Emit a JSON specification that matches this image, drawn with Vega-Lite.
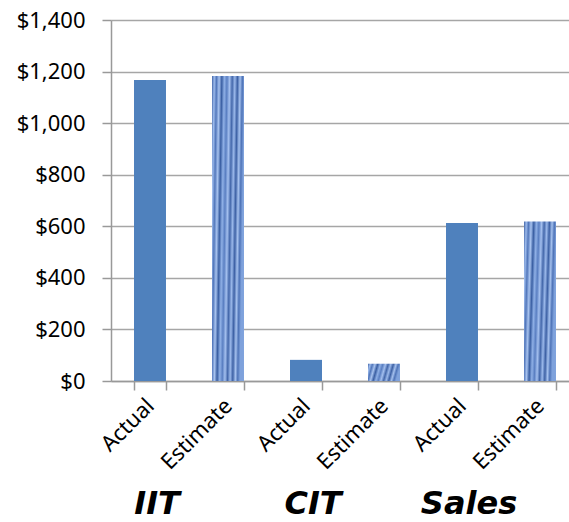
{
  "$schema": "https://vega.github.io/schema/vega-lite/v6.json",
  "autosize": {"type": "none"},
  "width": 458,
  "height": 361,
  "padding": {"left": 111, "top": 20, "right": 0, "bottom": 141},
  "background": "white",
  "config": {"view": {"stroke": null}},
  "data": {
    "values": [
      {"id": "IIT Actual", "group": "IIT", "type": "Actual", "value": 1167},
      {"id": "IIT Estimate", "group": "IIT", "type": "Estimate", "value": 1183},
      {"id": "CIT Actual", "group": "CIT", "type": "Actual", "value": 82},
      {"id": "CIT Estimate", "group": "CIT", "type": "Estimate", "value": 67},
      {"id": "Sales Actual", "group": "Sales", "type": "Actual", "value": 613},
      {"id": "Sales Estimate", "group": "Sales", "type": "Estimate", "value": 619}
    ]
  },
  "encoding": {
    "x": {
      "field": "id",
      "type": "nominal",
      "scale": {
        "domain": ["IIT Actual", "IIT Estimate", "CIT Actual", "CIT Estimate", "Sales Actual", "Sales Estimate"],
        "range": [0, 468],
        "paddingInner": 0.59,
        "paddingOuter": 0.295
      },
      "axis": {
        "title": null,
        "labelExpr": "split(datum.label, ' ')[1]",
        "labelAngle": -45,
        "labelAlign": "right",
        "labelBaseline": "middle",
        "labelFont": "Noto Sans",
        "labelFontSize": 22,
        "labelColor": "#000000",
        "labelPadding": 12,
        "tickBand": "extent",
        "tickSize": 9,
        "tickColor": "#999999",
        "tickWidth": 1.5,
        "domainColor": "#999999",
        "domainWidth": 1.5,
        "grid": false
      }
    }
  },
  "layer": [
    {
      "transform": [{"filter": "datum.type === 'Actual'"}],
      "mark": {"type": "bar", "color": "#4F81BD"},
      "encoding": {
        "y": {
          "field": "value",
          "type": "quantitative",
          "scale": {"domain": [0, 1400]},
          "axis": {
            "title": null,
            "values": [0, 200, 400, 600, 800, 1000, 1200, 1400],
            "format": "$,.0f",
            "labelFont": "Noto Sans",
            "labelFontSize": 22,
            "labelColor": "#000000",
            "labelPadding": 17,
            "tickSize": 9,
            "tickColor": "#999999",
            "tickWidth": 1.5,
            "domainColor": "#999999",
            "domainWidth": 1.5,
            "gridColor": "#a6a6a6",
            "gridWidth": 1.5
          }
        }
      }
    },
    {
      "transform": [{"filter": "datum.type === 'Estimate'"}],
      "mark": {
        "type": "bar",
        "fill": {
          "gradient": "linear",
          "x1": 0, "y1": 0, "x2": 1, "y2": 0.15,
          "stops": [
            {"offset": 0, "color": "#3e62a6"},
            {"offset": 0.07, "color": "#9dbbec"},
            {"offset": 0.14, "color": "#5277bb"},
            {"offset": 0.22, "color": "#a8c3ef"},
            {"offset": 0.3, "color": "#3a5fa3"},
            {"offset": 0.38, "color": "#8fb0e6"},
            {"offset": 0.46, "color": "#5a7fc2"},
            {"offset": 0.54, "color": "#a3bfee"},
            {"offset": 0.62, "color": "#4468ab"},
            {"offset": 0.7, "color": "#9ab8ea"},
            {"offset": 0.78, "color": "#3d61a5"},
            {"offset": 0.86, "color": "#a5c1ee"},
            {"offset": 0.93, "color": "#4f74b8"},
            {"offset": 1, "color": "#7fa2dc"}
          ]
        }
      },
      "encoding": {
        "y": {"field": "value", "type": "quantitative"}
      }
    },
    {
      "transform": [{"filter": "datum.type === 'Actual'"}],
      "mark": {
        "type": "text",
        "font": "DejaVu Sans",
        "fontWeight": "bold",
        "fontStyle": "italic",
        "fontSize": 32,
        "color": "#000000",
        "align": "center",
        "baseline": "alphabetic"
      },
      "encoding": {
        "x": {"field": "id", "type": "nominal", "bandPosition": 0.72},
        "y": {"datum": -514, "type": "quantitative"},
        "text": {"field": "group"}
      }
    }
  ]
}
